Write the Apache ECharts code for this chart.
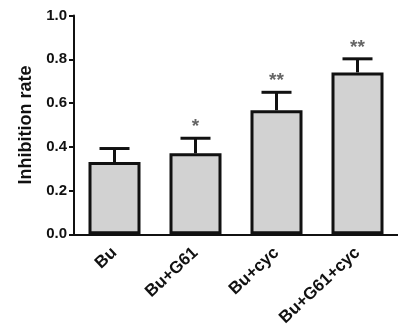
<!DOCTYPE html>
<html><head><meta charset="utf-8">
<script src="https://cdn.jsdelivr.net/npm/echarts@6/dist/echarts.min.js"></script>
<style>html,body{margin:0;padding:0;background:#fff}#c{width:398px;height:336px}</style>
</head><body><div id="c"></div>
<script>
const categories = ['Bu', 'Bu+G61', 'Bu+cyc', 'Bu+G61+cyc'];
const means = [0.33, 0.37, 0.567, 0.74];
const errors = [0.062, 0.069, 0.082, 0.062];
const marks = ['', '*', '**', '**'];
const yTicks = [0, 0.2, 0.4, 0.6, 0.8, 1.0];

const chart = echarts.init(document.getElementById('c'), null, {renderer: 'canvas'});
const font = 'Arial, "Liberation Sans", sans-serif';
chart.setOption({
  animation: false,
  backgroundColor: '#fff',
  grid: {left: 74, right: -5, top: 15.5, bottom: 101.7},
  xAxis: {
    type: 'category', data: categories,
    axisLine: {lineStyle: {color: '#111', width: 2}},
    axisTick: {alignWithLabel: true, length: 7, lineStyle: {color: '#333', width: 2}},
    axisLabel: {rotate: 43, margin: 16, fontFamily: font, fontWeight: 'bold', fontSize: 17, color: '#111'}
  },
  yAxis: {
    type: 'value', min: yTicks[0], max: yTicks[yTicks.length - 1], interval: 0.2,
    name: 'Inhibition rate', nameLocation: 'middle', nameGap: 31,
    nameTextStyle: {fontFamily: font, fontWeight: 'bold', fontSize: 18, color: '#111'},
    axisLine: {show: true, lineStyle: {color: '#111', width: 2}},
    axisTick: {show: true, length: 5, lineStyle: {color: '#111', width: 2}},
    splitLine: {show: false},
    axisLabel: {formatter: v => v.toFixed(1), margin: 7, fontFamily: font, fontWeight: 'bold', fontSize: 15, color: '#111'}
  },
  series: [
    {
      type: 'bar', data: means, barWidth: 52, z: 2,
      itemStyle: {color: '#d2d2d2', borderColor: '#111', borderWidth: 3}
    },
    {
      type: 'custom', z: 3,
      data: means.map((m, i) => [i, m, errors[i]]),
      renderItem: function (params, api) {
        const x = api.value(0), m = api.value(1), e = api.value(2);
        const mk = marks[params.dataIndex];
        const base = api.coord([x, m]);
        const top = api.coord([x, m + e]);
        const half = 15;
        const children = [
          {type: 'line', shape: {x1: base[0], y1: base[1], x2: top[0], y2: top[1]}, style: {stroke: '#111', lineWidth: 3}},
          {type: 'line', shape: {x1: top[0] - half, y1: top[1], x2: top[0] + half, y2: top[1]}, style: {stroke: '#111', lineWidth: 3}}
        ];
        if (mk) {
          children.push({type: 'text', x: top[0], y: top[1] - 2, style: {text: mk, fill: '#666', font: 'bold 19px ' + font, align: 'center', verticalAlign: 'bottom'}});
        }
        return {type: 'group', children: children};
      }
    }
  ]
});
</script></body></html>
